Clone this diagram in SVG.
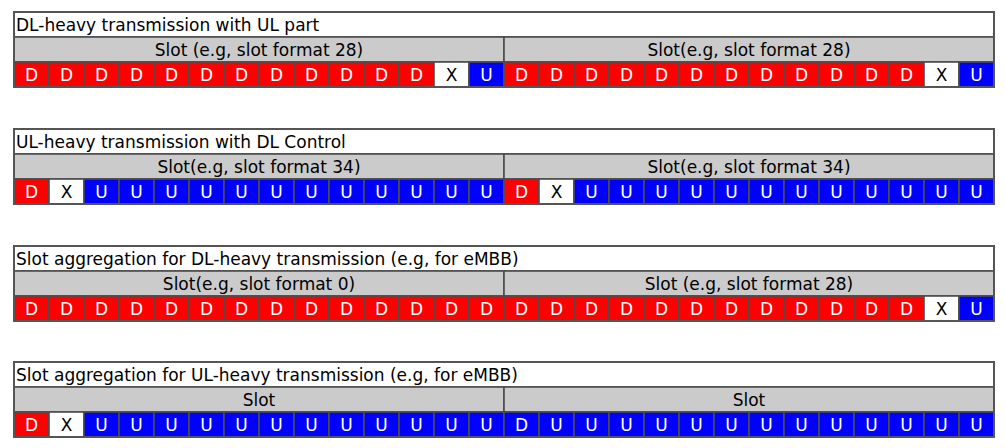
<svg xmlns="http://www.w3.org/2000/svg" width="1005" height="448" viewBox="0 0 1005 448">
  <style>
    text { font-family: "DejaVu Sans", Verdana, sans-serif; font-size: 17px; }
    .title { fill: #000; }
    .hdr { fill: #000; text-anchor: middle; }
    .row { stroke: #4d4d4d; stroke-width: 1.6; }
    .bg-white { fill: #ffffff; }
    .bg-grey { fill: #cbcbcb; }
    .d { fill: #ff0000; }
    .u { fill: #0000ff; }
    .x { fill: #ffffff; }
    .lbl-w { fill: #ffffff; text-anchor: middle; }
    .lbl-k { fill: #000000; text-anchor: middle; }
    .frame { fill: none; stroke: #555555; stroke-width: 2; }
  </style>
  <defs>
    <!-- one symbol cell, 35 x 25 -->
    <g id="cD"><rect class="d row" width="35" height="25"/><text class="lbl-w" x="17.5" y="19">D</text></g>
    <g id="cU"><rect class="u row" width="35" height="25"/><text class="lbl-w" x="17.5" y="19">U</text></g>
    <g id="cX"><rect class="x row" width="35" height="25"/><text class="lbl-k" x="17.5" y="19">X</text></g>
    <g id="cUD"><rect class="u row" width="35" height="25"/><text class="lbl-w" x="17.5" y="19">D</text></g>
  </defs>

  <!-- Table 1: DL-heavy transmission with UL part -->
  <g id="dl-heavy-ul" transform="translate(14,12)">
    <rect class="bg-white row" width="980" height="25"/>
    <text class="title" x="2" y="19">DL-heavy transmission with UL part</text>
    <rect class="bg-grey row" x="0" y="25" width="490" height="25"/>
    <rect class="bg-grey row" x="490" y="25" width="490" height="25"/>
    <text class="hdr" x="245" y="44">Slot (e.g, slot format 28)</text>
    <text class="hdr" x="735" y="44">Slot(e.g, slot format 28)</text>
    <g transform="translate(0,50)">
      <use href="#cD" x="0"/><use href="#cD" x="35"/><use href="#cD" x="70"/><use href="#cD" x="105"/>
      <use href="#cD" x="140"/><use href="#cD" x="175"/><use href="#cD" x="210"/><use href="#cD" x="245"/>
      <use href="#cD" x="280"/><use href="#cD" x="315"/><use href="#cD" x="350"/><use href="#cD" x="385"/>
      <use href="#cX" x="420"/><use href="#cU" x="455"/>
      <use href="#cD" x="490"/><use href="#cD" x="525"/><use href="#cD" x="560"/><use href="#cD" x="595"/>
      <use href="#cD" x="630"/><use href="#cD" x="665"/><use href="#cD" x="700"/><use href="#cD" x="735"/>
      <use href="#cD" x="770"/><use href="#cD" x="805"/><use href="#cD" x="840"/><use href="#cD" x="875"/>
      <use href="#cX" x="910"/><use href="#cU" x="945"/>
    </g>
    <rect class="frame" width="980" height="75"/>
  </g>

  <!-- Table 2: UL-heavy transmission with DL Control -->
  <g id="ul-heavy-dl" transform="translate(14,129)">
    <rect class="bg-white row" width="980" height="25"/>
    <text class="title" x="2" y="19">UL-heavy transmission with DL Control</text>
    <rect class="bg-grey row" x="0" y="25" width="490" height="25"/>
    <rect class="bg-grey row" x="490" y="25" width="490" height="25"/>
    <text class="hdr" x="245" y="44">Slot(e.g, slot format 34)</text>
    <text class="hdr" x="735" y="44">Slot(e.g, slot format 34)</text>
    <g transform="translate(0,50)">
      <use href="#cD" x="0"/><use href="#cX" x="35"/>
      <use href="#cU" x="70"/><use href="#cU" x="105"/><use href="#cU" x="140"/><use href="#cU" x="175"/>
      <use href="#cU" x="210"/><use href="#cU" x="245"/><use href="#cU" x="280"/><use href="#cU" x="315"/>
      <use href="#cU" x="350"/><use href="#cU" x="385"/><use href="#cU" x="420"/><use href="#cU" x="455"/>
      <use href="#cD" x="490"/><use href="#cX" x="525"/>
      <use href="#cU" x="560"/><use href="#cU" x="595"/><use href="#cU" x="630"/><use href="#cU" x="665"/>
      <use href="#cU" x="700"/><use href="#cU" x="735"/><use href="#cU" x="770"/><use href="#cU" x="805"/>
      <use href="#cU" x="840"/><use href="#cU" x="875"/><use href="#cU" x="910"/><use href="#cU" x="945"/>
    </g>
    <rect class="frame" width="980" height="75"/>
  </g>

  <!-- Table 3: Slot aggregation for DL-heavy transmission -->
  <g id="agg-dl-heavy" transform="translate(14,246)">
    <rect class="bg-white row" width="980" height="25"/>
    <text class="title" x="2" y="19">Slot aggregation for DL-heavy transmission (e.g, for eMBB)</text>
    <rect class="bg-grey row" x="0" y="25" width="490" height="25"/>
    <rect class="bg-grey row" x="490" y="25" width="490" height="25"/>
    <text class="hdr" x="245" y="44">Slot(e.g, slot format 0)</text>
    <text class="hdr" x="735" y="44">Slot (e.g, slot format 28)</text>
    <g transform="translate(0,50)">
      <use href="#cD" x="0"/><use href="#cD" x="35"/><use href="#cD" x="70"/><use href="#cD" x="105"/>
      <use href="#cD" x="140"/><use href="#cD" x="175"/><use href="#cD" x="210"/><use href="#cD" x="245"/>
      <use href="#cD" x="280"/><use href="#cD" x="315"/><use href="#cD" x="350"/><use href="#cD" x="385"/>
      <use href="#cD" x="420"/><use href="#cD" x="455"/>
      <use href="#cD" x="490"/><use href="#cD" x="525"/><use href="#cD" x="560"/><use href="#cD" x="595"/>
      <use href="#cD" x="630"/><use href="#cD" x="665"/><use href="#cD" x="700"/><use href="#cD" x="735"/>
      <use href="#cD" x="770"/><use href="#cD" x="805"/><use href="#cD" x="840"/><use href="#cD" x="875"/>
      <use href="#cX" x="910"/><use href="#cU" x="945"/>
    </g>
    <rect class="frame" width="980" height="75"/>
  </g>

  <!-- Table 4: Slot aggregation for UL-heavy transmission -->
  <g id="agg-ul-heavy" transform="translate(14,362)">
    <rect class="bg-white row" width="980" height="25"/>
    <text class="title" x="2" y="19">Slot aggregation for UL-heavy transmission (e.g, for eMBB)</text>
    <rect class="bg-grey row" x="0" y="25" width="490" height="25"/>
    <rect class="bg-grey row" x="490" y="25" width="490" height="25"/>
    <text class="hdr" x="245" y="44">Slot</text>
    <text class="hdr" x="735" y="44">Slot</text>
    <g transform="translate(0,50)">
      <use href="#cD" x="0"/><use href="#cX" x="35"/>
      <use href="#cU" x="70"/><use href="#cU" x="105"/><use href="#cU" x="140"/><use href="#cU" x="175"/>
      <use href="#cU" x="210"/><use href="#cU" x="245"/><use href="#cU" x="280"/><use href="#cU" x="315"/>
      <use href="#cU" x="350"/><use href="#cU" x="385"/><use href="#cU" x="420"/><use href="#cU" x="455"/>
      <use href="#cUD" x="490"/><use href="#cU" x="525"/>
      <use href="#cU" x="560"/><use href="#cU" x="595"/><use href="#cU" x="630"/><use href="#cU" x="665"/>
      <use href="#cU" x="700"/><use href="#cU" x="735"/><use href="#cU" x="770"/><use href="#cU" x="805"/>
      <use href="#cU" x="840"/><use href="#cU" x="875"/><use href="#cU" x="910"/><use href="#cU" x="945"/>
    </g>
    <rect class="frame" width="980" height="75"/>
  </g>
</svg>
